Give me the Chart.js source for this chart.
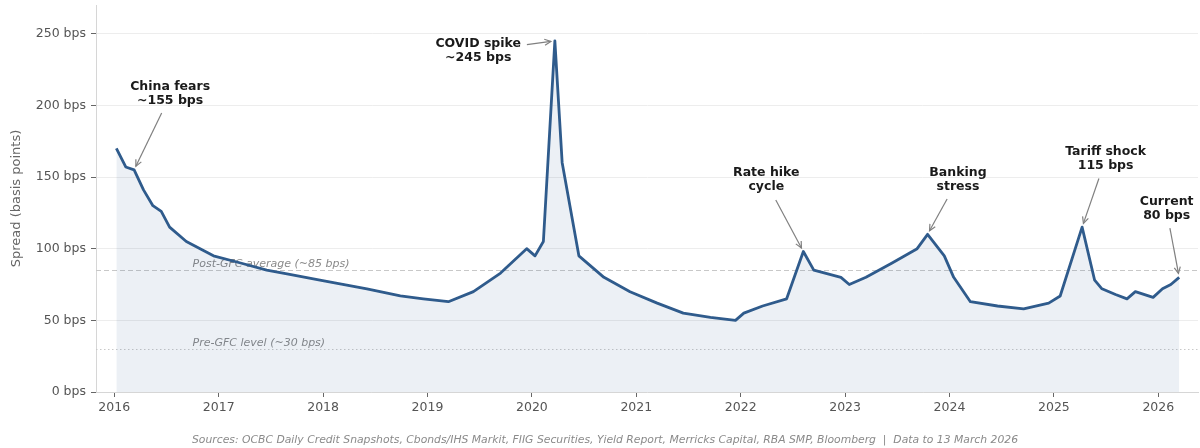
<!DOCTYPE html>
<html lang="en">
<head>
  <meta charset="UTF-8">
  <title>Credit spread since 2016</title>
  <script src="https://cdn.jsdelivr.net/npm/chart.js"></script>
  <style>
    body { margin: 0; background: #fff; }
    #wrap { width: 1200px; height: 448px; }
  </style>
</head>
<body>
<div id="wrap"><canvas id="spreadChart" width="1200" height="448"></canvas></div>

<script>
  // Observation dates (decimal years) and spread in bps
  const dates = [2016.02, 2016.11, 2016.19, 2016.28, 2016.37, 2016.45, 2016.53, 2016.69, 2016.95, 2017.21,
                 2017.46, 2017.68, 2017.97, 2018.42, 2018.74, 2018.96, 2019.20, 2019.44, 2019.70, 2019.95,
                 2020.03, 2020.11, 2020.22, 2020.29, 2020.45, 2020.69, 2020.94, 2021.20, 2021.45, 2021.71,
                 2021.95, 2022.03, 2022.21, 2022.44, 2022.60, 2022.70, 2022.96, 2023.04, 2023.20, 2023.45,
                 2023.69, 2023.79, 2023.95, 2024.04, 2024.20, 2024.46, 2024.71, 2024.95, 2025.06, 2025.27,
                 2025.39, 2025.46, 2025.59, 2025.70, 2025.78, 2025.95, 2026.04, 2026.12, 2026.20];
  const spreadBps = [170, 157, 155, 141, 130, 126, 115, 105, 95, 90,
                     85, 82, 78, 72, 67, 65, 63, 70, 83, 100,
                     95, 105, 245, 160, 95, 80, 70, 62, 55, 52,
                     50, 55, 60, 65, 98, 85, 80, 75, 80, 90,
                     100, 110, 95, 80, 63, 60, 58, 62, 67, 115,
                     78, 72, 68, 65, 70, 66, 72, 75, 80];

  const yearTicks = [2016, 2017, 2018, 2019, 2020, 2021, 2022, 2023, 2024, 2025, 2026];
  const bpsTicks = [0, 50, 100, 150, 200, 250];

  const postGfcAvg = 85;
  const preGfcLevel = 30;

  // event labels: arrow points at [x, y], text centred at text, arrow leaves from `from`
  const events = [
    { lines: ['China fears', '~155 bps'], at: [2016.19, 155], text: [2016.535, 208], from: [2016.454, 194.6] },
    { lines: ['COVID spike', '~245 bps'], at: [2020.22, 245], text: [2019.486, 238], from: [2019.952, 242.3] },
    { lines: ['Rate hike', 'cycle'], at: [2022.60, 98], text: [2022.245, 148], from: [2022.336, 134] },
    { lines: ['Banking', 'stress'], at: [2023.79, 110], text: [2024.081, 148], from: [2023.977, 134.6] },
    { lines: ['Tariff shock', '115 bps'], at: [2025.27, 115], text: [2025.495, 163], from: [2025.431, 149] },
    { lines: ['Current', '80 bps'], at: [2026.20, 80], text: [2026.08, 127.8], from: [2026.111, 114.3] }
  ];

  const sourceNote = 'Sources: OCBC Daily Credit Snapshots, Cbonds/IHS Markit, FIIG Securities, Yield Report, Merricks Capital, RBA SMP, Bloomberg  |  Data to 13 March 2026';

  const FONT = "'DejaVu Sans', sans-serif";

  // reference lines behind the series
  const refLines = {
    id: 'refLines',
    beforeDatasetsDraw(chart) {
      const { ctx, chartArea: a, scales: { y } } = chart;
      ctx.save();
      ctx.strokeStyle = '#c8c8c8';
      ctx.lineWidth = 1;
      let py = Math.round(y.getPixelForValue(postGfcAvg)) + 0.5;
      ctx.setLineDash([5, 3]);
      ctx.beginPath(); ctx.moveTo(a.left, py); ctx.lineTo(a.right, py); ctx.stroke();
      let py2 = Math.round(y.getPixelForValue(preGfcLevel)) + 0.5;
      ctx.setLineDash([1.5, 2.5]);
      ctx.beginPath(); ctx.moveTo(a.left, py2); ctx.lineTo(a.right, py2); ctx.stroke();
      ctx.setLineDash([]);
      ctx.fillStyle = '#8a8a8a';
      ctx.font = 'italic 11px ' + FONT;
      ctx.textAlign = 'left';
      ctx.textBaseline = 'alphabetic';
      const lx = chart.scales.x.getPixelForValue(2016.75);
      ctx.fillText('Post-GFC average (~85 bps)', lx, py - 4);
      ctx.fillText('Pre-GFC level (~30 bps)', lx, py2 - 4);
      ctx.restore();
    }
  };

  // annotations, axis title and source line
  const extras = {
    id: 'extras',
    afterDatasetsDraw(chart) {
      const { ctx, chartArea: a, scales: { x, y } } = chart;
      ctx.save();
      events.forEach(ev => {
        const tx = x.getPixelForValue(ev.text[0]);
        const ty = y.getPixelForValue(ev.text[1]);
        ctx.fillStyle = '#1a1a1a';
        ctx.font = 'bold 12.5px ' + FONT;
        ctx.textAlign = 'center';
        ctx.textBaseline = 'middle';
        ctx.fillText(ev.lines[0], tx, ty - 7);
        ctx.fillText(ev.lines[1], tx, ty + 7);

        const x0 = x.getPixelForValue(ev.from[0]), y0 = y.getPixelForValue(ev.from[1]);
        let x1 = x.getPixelForValue(ev.at[0]), y1 = y.getPixelForValue(ev.at[1]);
        const ang = Math.atan2(y1 - y0, x1 - x0);
        x1 -= Math.cos(ang) * 4; y1 -= Math.sin(ang) * 4;
        ctx.strokeStyle = '#808080';
        ctx.lineWidth = 1.2;
        ctx.beginPath(); ctx.moveTo(x0, y0); ctx.lineTo(x1, y1); ctx.stroke();
        const h = 7, w = 0.45;
        ctx.beginPath();
        ctx.moveTo(x1 - h * Math.cos(ang - w), y1 - h * Math.sin(ang - w));
        ctx.lineTo(x1, y1);
        ctx.lineTo(x1 - h * Math.cos(ang + w), y1 - h * Math.sin(ang + w));
        ctx.stroke();
      });

      // y axis title
      ctx.fillStyle = '#666';
      ctx.font = '13px ' + FONT;
      ctx.textAlign = 'center';
      ctx.textBaseline = 'middle';
      ctx.translate(17, (a.top + a.bottom) / 2);
      ctx.rotate(-Math.PI / 2);
      ctx.fillText('Spread (basis points)', 0, 0);
      ctx.restore();

      ctx.save();
      ctx.fillStyle = '#8a8a8a';
      ctx.font = 'italic 10.8px ' + FONT;
      ctx.textAlign = 'center';
      ctx.textBaseline = 'middle';
      ctx.fillText(sourceNote, 605, 440);
      ctx.restore();
    }
  };

  new Chart(document.getElementById('spreadChart'), {
    type: 'line',
    data: {
      datasets: [{
        data: dates.map((d, i) => ({ x: d, y: spreadBps[i] })),
        borderColor: '#2f5b8c',
        backgroundColor: 'rgba(47, 91, 140, 0.09)',
        borderWidth: 2.8,
        borderJoinStyle: 'round',
        fill: 'origin',
        tension: 0,
        pointRadius: 0
      }]
    },
    options: {
      responsive: false,
      animation: false,
      devicePixelRatio: 1,
      layout: { padding: { top: 5, right: 2, left: 0, bottom: 0 } },
      plugins: { legend: { display: false }, tooltip: { enabled: false } },
      scales: {
        x: {
          type: 'linear',
          min: 2015.825,
          max: 2026.38,
          afterBuildTicks: s => { s.ticks = yearTicks.map(v => ({ value: v })); },
          afterFit: s => { s.height = 56; s.paddingLeft = 0; s.paddingRight = 0; },
          grid: { drawOnChartArea: false, tickColor: '#666', tickLength: 5 },
          border: { color: '#d6d6d6', width: 1 },
          ticks: { color: '#555', font: { family: FONT, size: 12.5 }, padding: 3, maxRotation: 0,
                   callback: v => String(v) }
        },
        y: {
          min: 0,
          max: 270,
          afterBuildTicks: s => { s.ticks = bpsTicks.map(v => ({ value: v })); },
          afterFit: s => { s.width = 96; s.paddingTop = 0; s.paddingBottom = 0; },
          grid: { color: '#ededed', tickColor: '#666', tickLength: 5 },
          border: { color: '#d6d6d6', width: 1 },
          ticks: { color: '#555', font: { family: FONT, size: 12.5 }, padding: 5,
                   callback: v => v + ' bps' }
        }
      }
    },
    plugins: [refLines, extras]
  });
</script>
</body>
</html>
